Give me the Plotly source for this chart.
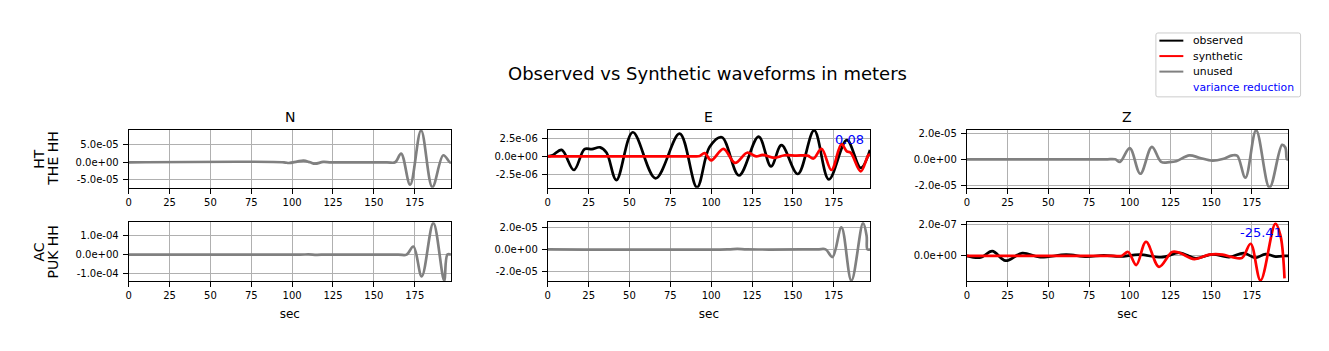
import plotly.graph_objects as go

# ---------------- data ----------------
# Row 1: HT THE HH
t_the_n_unused = [0, 95, 98, 103, 107, 111, 114, 119, 124, 158, 163, 166.7, 172.2, 178.9, 185.8, 192.5, 196.5, 197.2]
v_the_n_unused = [0, 0, -0.2e-5, 0.2e-5, 0.5e-5, 0.0, -0.4e-5, 0.1e-5, 0, 0, 0, 2.5e-5, -6.4e-5, 9.1e-5, -7.1e-5, 2.0e-5, 0, 0]

t_the_e_obs = [0, 3, 8.5, 16, 22.5, 27, 32, 36, 42, 52, 66, 80.7, 91.3, 99, 106.5, 117, 129, 136.6, 143, 153, 163, 172, 183, 191.5, 197.2]
v_the_e_obs = [0, 0.15e-6, 0.9e-6, -1.9e-6, 1.0e-6, 1.0e-6, 1.25e-6, 0.5e-6, -3.3e-6, 3.35e-6, -3.05e-6, 3.15e-6, -4.3e-6, 1.3e-6,
               2.65e-6, -2.65e-6, 2.75e-6, -1.4e-6, 1.55e-6, -2.45e-6, 3.6e-6, -3.2e-6, 2.25e-6, -1.6e-6, 0.9e-6]

t_the_e_syn = [0, 85, 90, 93, 96, 100, 107.5, 114.6, 122, 127.5, 131.5, 138.6, 145, 152, 159, 162.6, 167.5, 173.6, 179.7, 183, 185.4, 191.5, 196, 197.2]
v_the_e_syn = [0, 0, 0, 0.05e-6, 0.45e-6, -0.55e-6, 1.05e-6, -0.9e-6, 0.5e-6, 0, 0.2e-6, -0.2e-6, 0.15e-6, 0.1e-6, 0.1e-6,
               -0.3e-6, 1.05e-6, -1.9e-6, 1.7e-6, 0.7e-6, 0.5e-6, -2.1e-6, 0.1e-6, 0.3e-6]

t_the_z_unused = [0, 85, 91, 94, 100, 106.5, 113.6, 119.3, 124.4, 128.5, 136.6, 142.7, 150.8, 157, 163, 166, 171, 177.6, 185.8, 193.5, 195.5, 196.5, 197.2]
v_the_z_unused = [0, 0, 0, -0.2e-5, 0.85e-5, -1.1e-5, 0.95e-5, -0.2e-5, -0.22e-5, -0.15e-5, 0.3e-5, 0.12e-5, -0.1e-5, 0.02e-5,
                  0.3e-5, 0.27e-5, -1.4e-5, 2.2e-5, -2.15e-5, 1.1e-5, 0.9e-5, 0, 0]

# Row 2: AC PUK HH
t_puk_n_unused = [0, 105, 110, 115, 120, 125, 165, 170, 174.2, 179.3, 186.4, 193, 195, 197.2]
v_puk_n_unused = [0, 0, 0.01e-4, -0.01e-4, 0, 0, 0, 0, 0.42e-4, -1.12e-4, 1.63e-4, -1.34e-4, 0, 0]

t_puk_e_unused = [0, 110, 116, 122, 165, 170, 174.2, 179.7, 185.8, 192.9, 195.1, 195.6, 197.2]
v_puk_e_unused = [0, 0, 0.05e-5, 0, 0, 0, -0.7e-5, 2.0e-5, -2.85e-5, 2.4e-5, 1.25e-5, 0, 0]

t_puk_z_obs = [0, 8.5, 15.6, 23.8, 34, 45, 61, 73.6, 84, 94, 106, 120, 130.5, 140.6, 150.8, 161, 170, 177.2, 183.3, 189.4, 195.5, 197.2]
v_puk_z_obs = [0, -0.1e-7, 0.3e-7, -0.3e-7, 0.18e-7, -0.08e-7, 0.08e-7, -0.05e-7, 0.04e-7, -0.03e-7, 0.08e-7, -0.08e-7,
               0.2e-7, -0.15e-7, 0.1e-7, -0.08e-7, 0.18e-7, -0.12e-7, 0.12e-7, -0.04e-7, 0, 0]

t_puk_z_syn = [0, 90, 95, 99, 104, 110, 118, 126, 130.5, 139.6, 148.8, 157, 163, 169, 174.2, 180.3, 189.4, 192.5, 195]
v_puk_z_syn = [0, 0, 0, 0.25e-7, -0.58e-7, 0.9e-7, -0.69e-7, 0.25e-7, 0.2e-7, -0.2e-7, 0.08e-7, 0.08e-7, -0.08e-7,
               -0.12e-7, 0.77e-7, -1.55e-7, 2.05e-7, 1.3e-7, -1.42e-7]

components = ["N", "E", "Z"]
stations = [("HT", "THE HH"), ("AC", "PUK HH")]
variance_reduction = {(0, 1): "0.08", (1, 2): "-25.41"}
legend_labels = ["observed", "synthetic", "unused", "variance reduction"]

x_ticks = [0, 25, 50, 75, 100, 125, 150, 175]
y_ticks = {
    (0, 0): [-5e-5, 0, 5e-5], (0, 1): [-2.5e-6, 0, 2.5e-6], (0, 2): [-2e-5, 0, 2e-5],
    (1, 0): [-1e-4, 0, 1e-4], (1, 1): [-2e-5, 0, 2e-5], (1, 2): [0, 2e-7],
}
y_ranges = {
    (0, 0): [-7.3e-5, 9.3e-5], (0, 1): [-4.37e-6, 3.69e-6], (0, 2): [-2.17e-5, 2.25e-5],
    (1, 0): [-1.37e-4, 1.675e-4], (1, 1): [-2.9e-5, 2.48e-5], (1, 2): [-1.6e-7, 2.14e-7],
}
x_range = [0, 197.2]

# ---------------- layout geometry ----------------
W, H = 1329, 351
col_px = [(126, 449), (546, 869), (966, 1288)]
row_px = [(129, 188), (223, 283)]

FONT = "DejaVu Sans"
GRAY, BLACK, RED, BLUE = "#808080", "#000000", "#ff0000", "#0000ff"
LW = 2.7

fig = go.Figure()

panels = {
    (0, 0): [(t_the_n_unused, v_the_n_unused, GRAY, "unused")],
    (0, 1): [(t_the_e_obs, v_the_e_obs, BLACK, "observed"), (t_the_e_syn, v_the_e_syn, RED, "synthetic")],
    (0, 2): [(t_the_z_unused, v_the_z_unused, GRAY, "unused")],
    (1, 0): [(t_puk_n_unused, v_puk_n_unused, GRAY, "unused")],
    (1, 1): [(t_puk_e_unused, v_puk_e_unused, GRAY, "unused")],
    (1, 2): [(t_puk_z_obs, v_puk_z_obs, BLACK, "observed"), (t_puk_z_syn, v_puk_z_syn, RED, "synthetic")],
}

annotations = []
shapes = []
layout_axes = {}
for r in range(2):
    for c in range(3):
        idx = r * 3 + c + 1
        xs = "" if idx == 1 else str(idx)
        xa, ya = "x" + xs, "y" + xs
        for t, v, color, name in panels[(r, c)]:
            fig.add_trace(go.Scatter(x=t, y=v, mode="lines", line=dict(color=color, width=LW, shape="spline", smoothing=1.0),
                                     xaxis=xa, yaxis=ya, name=name, showlegend=False, hoverinfo="skip"))
        x0, x1 = col_px[c]
        y0, y1 = row_px[r]
        common = dict(showline=True, linecolor="black", linewidth=1, mirror=True, ticks="outside", ticklen=5,
                      tickcolor="black", tickwidth=0.8, showgrid=True, gridcolor="#b0b0b0", gridwidth=0.8,
                      zeroline=False, tickfont=dict(family=FONT, size=10, color="black"))
        xaxis = dict(domain=[x0 / W, x1 / W], range=x_range, anchor=ya, tickvals=x_ticks,
                     ticktext=[str(v) for v in x_ticks], **common)
        if r == 1:
            xaxis["title"] = dict(text="sec", font=dict(family=FONT, size=12, color="black"), standoff=9)
        yaxis = dict(domain=[1 - y1 / H, 1 - y0 / H], range=y_ranges[(r, c)], anchor=xa,
                     tickvals=y_ticks[(r, c)], ticktext=[f"{v:.1e}" for v in y_ticks[(r, c)]],
                     ticklabelstandoff=2, **common)
        layout_axes["xaxis" + xs] = xaxis
        layout_axes["yaxis" + xs] = yaxis
        if (r, c) in variance_reduction:
            annotations.append(dict(text=variance_reduction[(r, c)], xref="paper", yref="paper",
                                    x=(x1 - 4) / W, y=1 - (y0 + 10) / H, xanchor="right", yanchor="middle",
                                    showarrow=False, font=dict(family=FONT, size=13, color=BLUE)))

# column titles
for c, comp in enumerate(components):
    x0, x1 = col_px[c]
    annotations.append(dict(text=comp, xref="paper", yref="paper", x=(x0 + x1) / 2 / W, y=1 - 116 / H,
                            xanchor="center", yanchor="middle", showarrow=False,
                            font=dict(family=FONT, size=14, color="black")))
# row labels (two rotated lines)
for r, (net, sta) in enumerate(stations):
    y0, y1 = row_px[r]
    for xpos, txt in [(36, net), (50, sta)]:
        annotations.append(dict(text=txt, xref="paper", yref="paper", x=xpos / W, y=1 - (y0 + y1) / 2 / H,
                                xanchor="center", yanchor="middle", textangle=-90, showarrow=False,
                                font=dict(family=FONT, size=14, color="black")))
# suptitle
annotations.append(dict(text="Observed vs Synthetic waveforms in meters", xref="paper", yref="paper",
                        x=706 / W, y=1 - 72 / H, xanchor="center", yanchor="middle", showarrow=False,
                        font=dict(family=FONT, size=18, color="black")))


# legend box (drawn like matplotlib's legend), pixel path converted to paper coords
def px_path_to_paper(p):
    out = []
    for tok in p.split():
        if "," in tok:
            a, b = tok.split(",")
            out.append(f"{float(a) / W:.6f},{1 - float(b) / H:.6f}")
        else:
            out.append(tok)
    return " ".join(out)


lx0, lx1, ly0, ly1, rad = 1155.5, 1300.5, 30.5, 95.5, 2
path = (f"M {lx0 + rad},{ly0} L {lx1 - rad},{ly0} Q {lx1},{ly0} {lx1},{ly0 + rad} L {lx1},{ly1 - rad} "
        f"Q {lx1},{ly1} {lx1 - rad},{ly1} L {lx0 + rad},{ly1} Q {lx0},{ly1} {lx0},{ly1 - rad} "
        f"L {lx0},{ly0 + rad} Q {lx0},{ly0} {lx0 + rad},{ly0} Z")
shapes.append(dict(type="path", xref="paper", yref="paper", path=px_path_to_paper(path),
                   line=dict(color="#cccccc", width=1), fillcolor="rgba(255,255,255,0.8)", layer="above"))

legend_colors = [BLACK, RED, GRAY, None]
legend_y = [38.3, 54, 69.8, 85.6]
for lab, col, yy in zip(legend_labels, legend_colors, legend_y):
    if col is not None:
        shapes.append(dict(type="line", xref="paper", yref="paper", x0=1159 / W, x1=1183 / W,
                           y0=1 - yy / H, y1=1 - yy / H, line=dict(color=col, width=2), layer="above"))
    annotations.append(dict(text=lab, xref="paper", yref="paper", x=1191 / W, y=1 - yy / H,
                            xanchor="left", yanchor="middle", showarrow=False,
                            font=dict(family=FONT, size=10.8, color=BLUE if col is None else "black")))

fig.update_layout(
    width=W, height=H, margin=dict(l=0, r=0, t=0, b=0),
    paper_bgcolor="white", plot_bgcolor="white",
    font=dict(family=FONT, color="black"),
    annotations=annotations, shapes=shapes, showlegend=False,
    **layout_axes,
)

fig.write_html("out.html")
